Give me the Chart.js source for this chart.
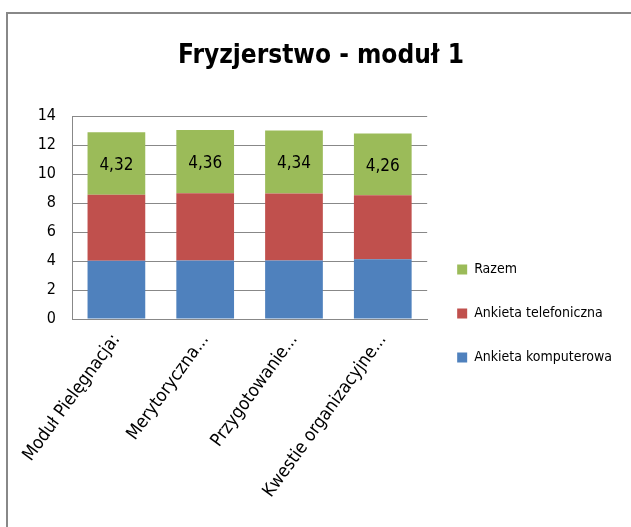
<!DOCTYPE html>
<html>
<head>
<meta charset="utf-8">
<script src="https://cdn.jsdelivr.net/npm/chart.js@4"></script>
<style>
  html, body { margin: 0; padding: 0; background: #fff; }
  #wrap { width: 631px; height: 527px; }
</style>
</head>
<body>
<div id="wrap"><canvas id="myChart" width="631" height="527"></canvas></div>
<script>
const categories = ["Moduł Pielęgnacja:", "Merytoryczna...", "Przygotowanie...", "Kwestie organizacyjne..."];
const komputerowa = [4.02, 4.03, 4.03, 4.12];
const telefoniczna = [4.55, 4.65, 4.64, 4.42];
const razem = [4.32, 4.36, 4.34, 4.26];
const yTicks = [0, 2, 4, 6, 8, 10, 12, 14];

const FONT = "'DejaVu Sans Condensed', 'DejaVu Sans', sans-serif";

// labels inside the green segment, comma decimal
const segmentLabels = {
  id: "segmentLabels",
  afterDatasetsDraw(chart) {
    const ctx = chart.ctx;
    const meta = chart.getDatasetMeta(2);
    ctx.save();
    ctx.font = "17px " + FONT;
    ctx.fillStyle = "#000";
    ctx.textAlign = "center";
    ctx.textBaseline = "middle";
    meta.data.forEach((bar, i) => {
      const y = (bar.y + bar.base) / 2 + 2;
      ctx.fillText(razem[i].toFixed(2).replace(".", ","), bar.x, y);
    });
    ctx.restore();
  }
};

// chart area frame (top and left edge only visible)
const frame = {
  id: "frame",
  afterDraw(chart) {
    const ctx = chart.ctx;
    ctx.save();
    ctx.strokeStyle = "#888";
    ctx.lineWidth = 2;
    ctx.beginPath();
    ctx.moveTo(7, 527);
    ctx.lineTo(7, 13);
    ctx.lineTo(631, 13);
    ctx.stroke();
    ctx.restore();
  }
};

const data = {
  labels: categories,
  datasets: [
    { label: "Ankieta komputerowa", data: komputerowa, backgroundColor: "#4f81bd" },
    { label: "Ankieta telefoniczna", data: telefoniczna, backgroundColor: "#c0504d" },
    { label: "Razem", data: razem, backgroundColor: "#9bbb59" }
  ]
};

const config = {
  type: "bar",
  data: data,
  plugins: [segmentLabels, frame],
  options: {
    responsive: false,
    animation: false,
    layout: { padding: { left: 20, right: 9, top: 0, bottom: 8 } },
    datasets: { bar: { categoryPercentage: 1.0, barPercentage: 0.65 } },
    plugins: {
      title: {
        display: true,
        text: "Fryzjerstwo - moduł 1",
        color: "#000",
        font: { family: FONT, size: 26, weight: "bold" },
        padding: { top: 41, bottom: 44 }
      },
      legend: {
        position: "right",
        reverse: true,
        maxWidth: 204,
        title: { display: true, text: " ", font: { size: 10 }, padding: { top: 48, bottom: 48 } },
        labels: {
          color: "#000",
          font: { family: FONT, size: 14 },
          boxWidth: 10,
          boxHeight: 10,
          padding: 30
        }
      },
      tooltip: { enabled: false }
    },
    scales: {
      x: {
        stacked: true,
        grid: { display: false },
        border: { color: "#888" },
        ticks: {
          color: "#000",
          font: { family: FONT, size: 18 },
          minRotation: 54,
          maxRotation: 54,
          autoSkip: false
        },
        afterFit(scale) { scale.height = 200; }
      },
      y: {
        stacked: true,
        min: 0,
        max: 14,
        afterBuildTicks(scale) { scale.ticks = yTicks.map(v => ({ value: v })); },
        grid: { color: "#888", drawTicks: false },
        border: { color: "#888" },
        ticks: {
          color: "#000",
          font: { family: FONT, size: 16 },
          padding: 16
        },
        afterFit(scale) { scale.width = 52; }
      }
    }
  }
};

new Chart(document.getElementById("myChart").getContext("2d"), config);
</script>
</body>
</html>
